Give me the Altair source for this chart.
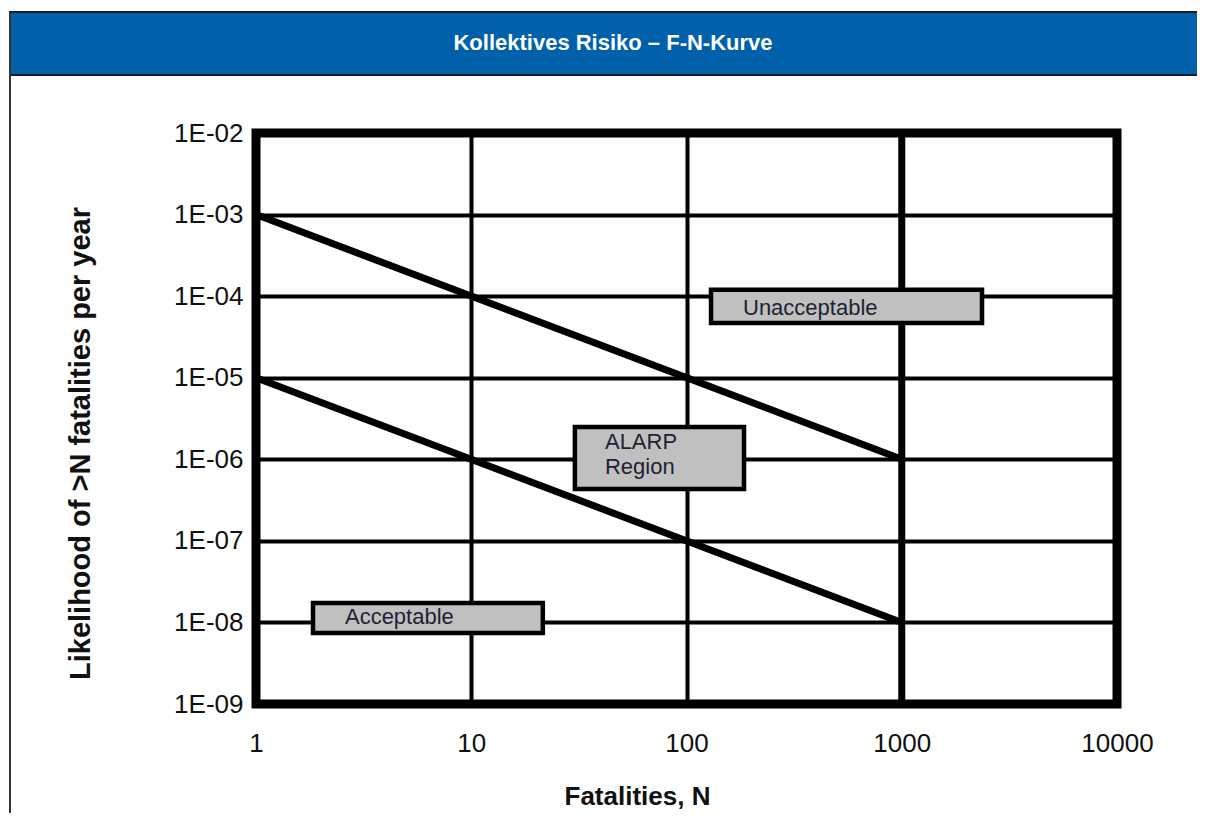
import altair as alt
import pandas as pd

# ---------------- data ----------------
HEADER_TITLE = "Kollektives Risiko – F-N-Kurve"
X_TITLE = "Fatalities, N"
Y_TITLE = "Likelihood of >N fatalities per year"

X_TICKS = [1, 10, 100, 1000, 10000]
Y_TICKS = [1e-2, 1e-3, 1e-4, 1e-5, 1e-6, 1e-7, 1e-8, 1e-9]

# criterion lines
N_CRIT = [1, 1000]
F_UPPER = [1e-3, 1e-6]
F_LOWER = [1e-5, 1e-8]
N_LIMIT = [1000]

# region boxes (data coordinates)
BOX_NAMES = ["Unacceptable", "ALARP", "Acceptable"]
BOX_N1 = [130, 30.3, 1.84]
BOX_N2 = [2360, 185, 21.5]
BOX_F1 = [1.2e-4, 2.49e-6, 1.73e-8]
BOX_F2 = [4.7e-5, 4.32e-7, 7.41e-9]

# region labels
LABEL_TEXT = ["Unacceptable", "ALARP\nRegion", "Acceptable"]
LABEL_N = [183, 41.8, 2.59]
LABEL_F = [7.2e-5, 1.63e-6, 1.17e-8]

# ---------------- tables ----------------
lines_df = pd.DataFrame({
    "N": N_CRIT + N_CRIT,
    "F": F_UPPER + F_LOWER,
    "series": ["upper"] * len(N_CRIT) + ["lower"] * len(N_CRIT),
})
limit_df = pd.DataFrame({"N": N_LIMIT})
box_df = pd.DataFrame({"name": BOX_NAMES, "N": BOX_N1, "N2": BOX_N2,
                       "F": BOX_F1, "F2": BOX_F2})
label_df = pd.DataFrame({"text": LABEL_TEXT, "N": LABEL_N, "F": LABEL_F})
header_df = pd.DataFrame({"title": [HEADER_TITLE]})

xs = alt.Scale(type="log", domain=[1, 10000], nice=False)
ys = alt.Scale(type="log", domain=[1e-9, 1e-2], nice=False)

x_axis = alt.Axis(
    values=X_TICKS, format="d", title=X_TITLE, titleFontSize=26,
    titleX=381, titleY=100, titleBaseline="alphabetic", titleAlign="center",
    labelPadding=39, labelBaseline="middle", labelFlush=False,
    labelOverlap=False, labelBound=False,
)
y_axis = alt.Axis(
    values=Y_TICKS,
    labelExpr="'1E-0' + round(-log(datum.value) / LN10)",
    title=Y_TITLE, titleFontSize=29, titleAngle=270,
    titleX=-167, titleY=310, titleBaseline="alphabetic", titleAlign="center",
    labelPadding=13, labelFlush=False, labelOverlap=False, labelBound=False,
)

X = alt.X("N:Q", scale=xs, axis=x_axis, title=X_TITLE)
Y = alt.Y("F:Q", scale=ys, axis=y_axis, title=Y_TITLE)

lines = alt.Chart(lines_df).mark_line(
    color="black", strokeWidth=7, strokeCap="butt"
).encode(x=X, y=Y, detail="series:N")

limit = alt.Chart(limit_df).mark_rule(color="black", strokeWidth=7).encode(x=X)

boxes = alt.Chart(box_df).mark_rect(
    fill="#c0c0c0", stroke="black", strokeWidth=4.5
).encode(x=X, x2="N2:Q", y=Y, y2="F2:Q")

labels = alt.Chart(label_df).mark_text(
    align="left", baseline="middle", font="Liberation Sans",
    fontSize=22, color="#1f1f33", lineBreak="\n", lineHeight=25
).encode(x=X, y=Y, text="text:N")

# header band (decoration outside the plot area)
band = alt.Chart(header_df).mark_rect(
    fill="#0061AA", stroke="#1a1a2a", strokeWidth=2
).encode(
    x=alt.value(-246), x2=alt.value(960),
    y=alt.value(-121), y2=alt.value(-58),
)
left_border = alt.Chart(header_df).mark_rule(
    color="#333333", strokeWidth=2
).encode(
    x=alt.value(-246), y=alt.value(-121), y2=alt.value(700),
)
header_text = alt.Chart(header_df).mark_text(
    align="center", baseline="middle",
    font="Liberation Sans", fontWeight="bold", fontSize=22, color="white"
).encode(
    x=alt.value(357), y=alt.value(-90), text="title:N",
)

chart = alt.layer(
    lines, limit, boxes, labels, band, left_border, header_text
).properties(
    width=861, height=571,
    padding={"left": 248, "top": 125, "right": 80, "bottom": 109},
    autosize=alt.AutoSizeParams(type="none"),
    background="white",
).configure_view(
    stroke="black", strokeWidth=9
).configure_axis(
    labelFont="Liberation Sans", labelFontSize=26, labelColor="#111111",
    titleFont="Liberation Sans", titleFontWeight="bold", titleColor="#111111",
    grid=True, gridColor="black", gridWidth=4, gridOpacity=1,
    ticks=False, tickSize=0, domain=False,
)

chart.save("out.html", embed_options={"renderer": "svg", "actions": False})
